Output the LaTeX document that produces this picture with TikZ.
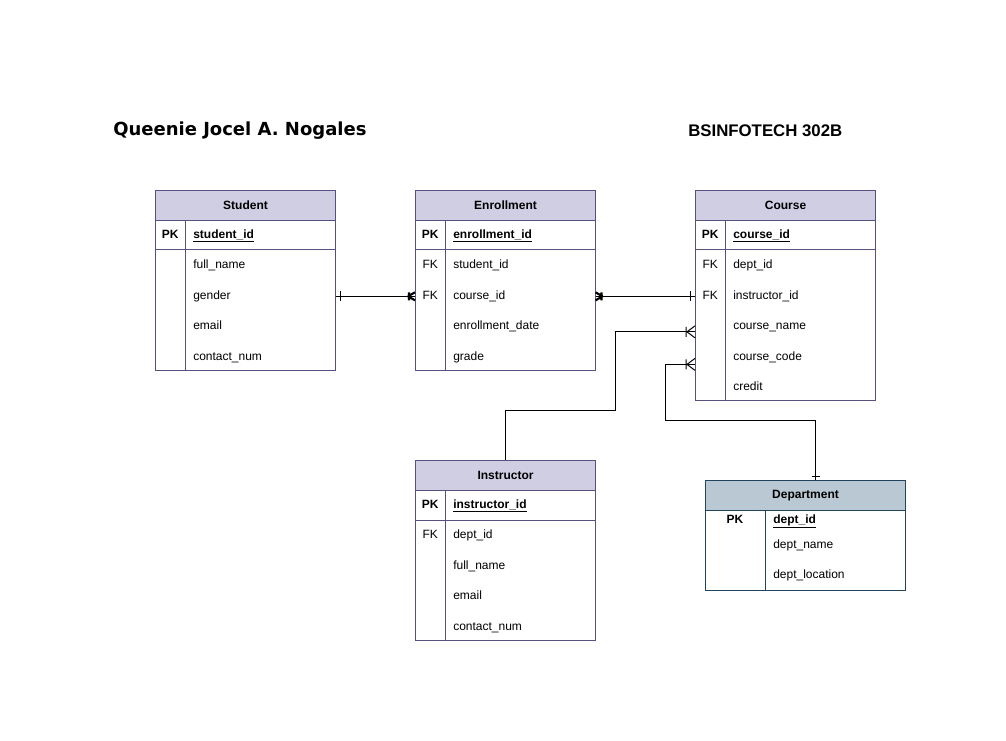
\documentclass[tikz,border=0pt]{standalone}
\usepackage{fontspec}
\setmainfont{Liberation Sans}
\newfontfamily\titlefont{DejaVu Sans}
\usetikzlibrary{positioning, calc}
\definecolor{tblfill}{HTML}{D0CEE2}
\definecolor{tblline}{HTML}{56517E}
\definecolor{depfill}{HTML}{BAC8D3}
\definecolor{depline}{HTML}{23445D}
\tikzset{
  txt/.style={font=\fontsize{9}{11}\selectfont},
  txtbold/.style={font=\fontsize{9}{11}\selectfont\bfseries},
  tblhead/.style={draw=tblline, fill=tblfill, line width=0.75pt, minimum width=135pt,
    minimum height=22.5pt, inner sep=0, anchor=north west, txtbold},
  tblbody/.style={draw=tblline, line width=0.75pt},
  keycell/.style={minimum width=22.5pt, minimum height=22.5pt, inner sep=0, anchor=north west,
    text height=6.5pt, text depth=2pt},
  fieldcell/.style={text width=#1, minimum height=22.5pt, inner sep=0, anchor=north west, align=left,
    text height=6.5pt, text depth=2pt},
  fieldcell/.default=106.5pt,
  conn/.style={draw=black, line width=0.75pt},
  onemany/.pic={\draw[conn] (-8,0) -- (0,-6) (-8,0) -- (0,6) (-9,-5) -- (-9,5);},
  mandmany/.pic={\draw[conn, line width=1.6pt] (-7,0) -- (0,-4) (-7,0) -- (0,4) (-6,-4) -- (-6,4);}
}
\begin{document}
\begin{tikzpicture}[x=0.75pt, y=-0.75pt, txt]
  \useasboundingbox (0,0) rectangle (1006,741);
  % titles
  \node[font=\titlefont\bfseries\fontsize{13.5}{16}\selectfont, anchor=west, inner sep=0] (author) at (113,131) {Queenie Jocel A. Nogales};
  \node[font=\bfseries\fontsize{12.6}{15}\selectfont, anchor=west, inner sep=0] (section) at (688,131) {BSINFOTECH 302B};

  % Student
  \draw[tblbody] (155,220) rectangle (335,370);
  \draw[tblbody] (155,250) -- (335,250);
  \draw[tblbody] (185,220) -- (185,370);
  \node[tblhead] (st-head) at (155,190) {Student};
  \node[keycell, txtbold] (st-k1) at (155,220) {PK};
  \node[fieldcell, txtbold] (st-f1) at (193,220) {\underline{student\_id}};
  \node[fieldcell, below=0pt of st-f1] (st-f2) {full\_name};
  \node[fieldcell, below=0pt of st-f2] (st-f3) {gender};
  \node[fieldcell, below=0pt of st-f3] (st-f4) {email};
  \node[fieldcell, below=0pt of st-f4] (st-f5) {contact\_num};

  % Enrollment
  \draw[tblbody] (415,220) rectangle (595,370);
  \draw[tblbody] (415,250) -- (595,250);
  \draw[tblbody] (445,220) -- (445,370);
  \node[tblhead] (en-head) at (415,190) {Enrollment};
  \node[keycell, txtbold] (en-k1) at (415,220) {PK};
  \node[keycell, below=0pt of en-k1] (en-k2) {FK};
  \node[keycell, below=0pt of en-k2] (en-k3) {FK};
  \node[fieldcell, txtbold] (en-f1) at (453,220) {\underline{enrollment\_id}};
  \node[fieldcell, below=0pt of en-f1] (en-f2) {student\_id};
  \node[fieldcell, below=0pt of en-f2] (en-f3) {course\_id};
  \node[fieldcell, below=0pt of en-f3] (en-f4) {enrollment\_date};
  \node[fieldcell, below=0pt of en-f4] (en-f5) {grade};

  % Course
  \draw[tblbody] (695,220) rectangle (875,400);
  \draw[tblbody] (695,250) -- (875,250);
  \draw[tblbody] (725,220) -- (725,400);
  \node[tblhead] (co-head) at (695,190) {Course};
  \node[keycell, txtbold] (co-k1) at (695,220) {PK};
  \node[keycell, below=0pt of co-k1] (co-k2) {FK};
  \node[keycell, below=0pt of co-k2] (co-k3) {FK};
  \node[keycell, below=0pt of co-k3] (co-k4) {};
  \node[keycell, below=0pt of co-k4] (co-k5) {};
  \node[fieldcell, txtbold] (co-f1) at (733,220) {\underline{course\_id}};
  \node[fieldcell, below=0pt of co-f1] (co-f2) {dept\_id};
  \node[fieldcell, below=0pt of co-f2] (co-f3) {instructor\_id};
  \node[fieldcell, below=0pt of co-f3] (co-f4) {course\_name};
  \node[fieldcell, below=0pt of co-f4] (co-f5) {course\_code};
  \node[fieldcell, below=0pt of co-f5] (co-f6) {credit};

  % Instructor
  \draw[tblbody] (415,490) rectangle (595,640);
  \draw[tblbody] (415,520) -- (595,520);
  \draw[tblbody] (445,490) -- (445,640);
  \node[tblhead] (in-head) at (415,460) {Instructor};
  \node[keycell, txtbold] (in-k1) at (415,490) {PK};
  \node[keycell, below=0pt of in-k1] (in-k2) {FK};
  \node[fieldcell, txtbold] (in-f1) at (453,490) {\underline{instructor\_id}};
  \node[fieldcell, below=0pt of in-f1] (in-f2) {dept\_id};
  \node[fieldcell, below=0pt of in-f2] (in-f3) {full\_name};
  \node[fieldcell, below=0pt of in-f3] (in-f4) {email};
  \node[fieldcell, below=0pt of in-f4] (in-f5) {contact\_num};

  % Department
  \draw[tblbody, draw=depline] (705,510) rectangle (905,590);
  \draw[tblbody, draw=depline] (765,510) -- (765,590);
  \node[tblhead, draw=depline, fill=depfill, minimum width=150pt] (dp-head) at (705,480) {Department};
  \node[txtbold, inner sep=0, text height=6.5pt, text depth=2pt] (dp-k1) at (735,520) {PK};
  \node[txtbold, anchor=west, inner sep=0, text height=6.5pt, text depth=2pt] (dp-f1) at (773,520) {\underline{dept\_id}};
  \node[anchor=west, inner sep=0, text height=6.5pt, text depth=2pt] (dp-f2) at (773,545) {dept\_name};
  \node[anchor=west, inner sep=0, text height=6.5pt, text depth=2pt] (dp-f3) at (773,575) {dept\_location};

  % relationships
  \coordinate (bendA) at (615,410);
  \coordinate (bendB) at (665,420);
  \draw[conn] (st-f3.east) -- (en-k3.west);
  \draw[conn] ([xshift=3.75pt]st-f3.east) ++(0,-5) -- ++(0,10);
  \pic at (en-k3.west) {mandmany};
  \draw[conn] (co-k3.west) -- (en-f3.east);
  \draw[conn] ([xshift=-3.75pt]co-k3.west) ++(0,-5) -- ++(0,10);
  \pic[rotate=180] at (en-f3.east) {mandmany};
  \draw[conn] (in-head.north) |- (bendA) |- ([yshift=-3.75pt]co-k4.west);
  \pic at ([yshift=-3.75pt]co-k4.west) {onemany};
  \draw[conn] ([xshift=7.5pt]dp-head.north) |- (bendB) |- ([yshift=-5.25pt]co-k5.west);
  \pic at ([yshift=-5.25pt]co-k5.west) {onemany};
  \draw[conn] ([xshift=7.5pt, yshift=3pt]dp-head.north) ++(-4,0) -- ++(8,0);
\end{tikzpicture}
\end{document}
